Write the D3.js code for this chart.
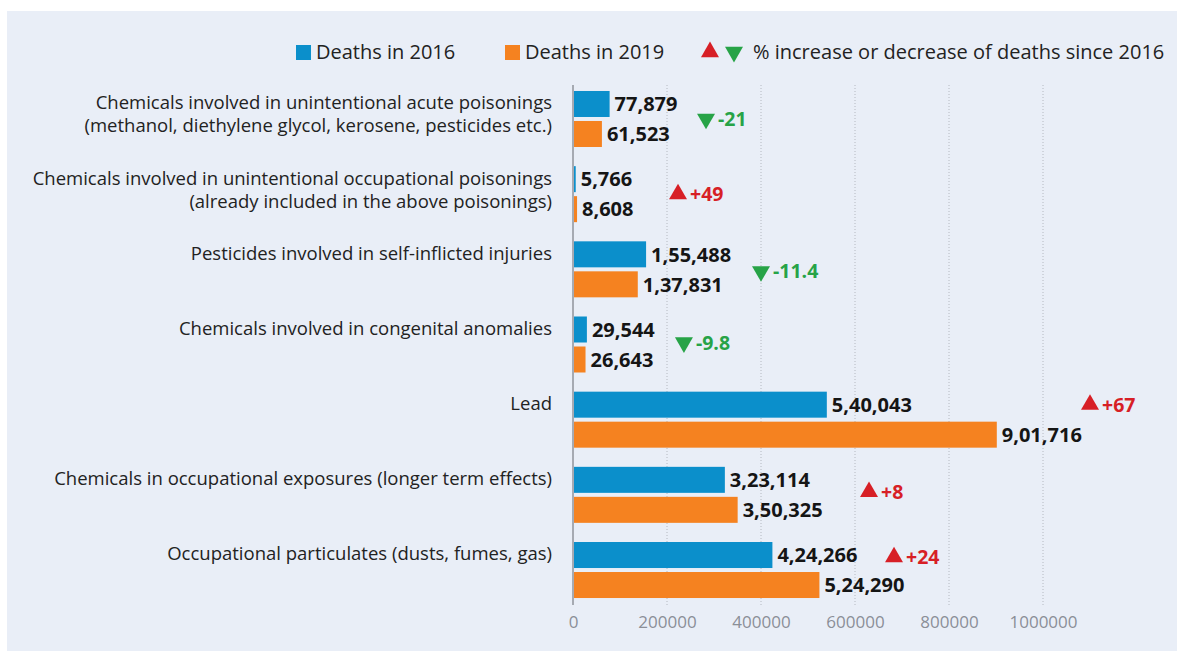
<!DOCTYPE html>
<html>
<head>
<meta charset="utf-8">
<script src="https://cdn.jsdelivr.net/npm/d3@7"></script>
<style>
  body { margin: 0; background: #fff; }
  svg { display: block; font-family: "Open Sans", "Noto Sans", sans-serif; }
</style>
</head>
<body>
<svg id="chart"></svg>
<script>
// ---------- data ----------
var categories = [
  ["Chemicals involved in unintentional acute poisonings", "(methanol, diethylene glycol, kerosene, pesticides etc.)"],
  ["Chemicals involved in unintentional occupational poisonings", "(already included in the above poisonings)"],
  ["Pesticides involved in self-inflicted injuries"],
  ["Chemicals involved in congenital anomalies"],
  ["Lead"],
  ["Chemicals in occupational exposures (longer term effects)"],
  ["Occupational particulates (dusts, fumes, gas)"]
];
var deaths2016 = [77879, 5766, 155488, 29544, 540043, 323114, 424266];
var deaths2019 = [61523, 8608, 137831, 26643, 901716, 350325, 524290];
var pctChange  = [-21, 49, -11.4, -9.8, 67, 8, 24];
var xTicks = [0, 200000, 400000, 600000, 800000, 1000000];
var seriesNames = ["Deaths in 2016", "Deaths in 2019"];

// where the % markers sit (x in axis units, y as offset from group top)
var markerAt = [266000, 206400, 383000, 219000, 1083000, 612800, 666000];
var markerDy = [28, 28, 30, 26, 13, 25, 15];

var W = 1177, H = 651;
var blue = "#0b8fcb", orange = "#f58220", red = "#d71f26", green = "#27a347";

var svg = d3.select("#chart").attr("width", W).attr("height", H);

// panel background
svg.append("rect")
  .attr("x", 7).attr("y", 11)
  .attr("width", W - 7).attr("height", H - 11)
  .attr("fill", "#e9eef7");

//-------------scales-------------------
var idx = d3.range(categories.length);

var x = d3.scaleLinear()
  .domain([0, 1000000])
  .range([573, 1043]);

var y0 = d3.scaleBand()
  .domain(idx)
  .range([81.4, 607.6])
  .paddingInner(0.255)
  .paddingOuter(0.1275);

var y1 = d3.scaleBand()
  .domain([0, 1])
  .range([0, y0.bandwidth()])
  .paddingInner(4 / 30);

// Indian digit grouping, e.g. 1,55,488
function inr(n) {
  var s = String(n);
  if (s.length <= 3) return s;
  var last3 = s.slice(-3), rest = s.slice(0, -3);
  rest = rest.replace(/\B(?=(\d{2})+(?!\d))/g, ",");
  return rest + "," + last3;
}

//-------------grid + axis-------------------
var gridTop = 85, gridBottom = 605;

svg.append("g")
  .selectAll("line")
  .data(xTicks.slice(1))
  .enter()
  .append("line")
  .attr("x1", function(d) { return x(d); })
  .attr("x2", function(d) { return x(d); })
  .attr("y1", gridTop)
  .attr("y2", gridBottom)
  .style("stroke", "#b4b8c0")
  .style("stroke-width", 1)
  .style("stroke-dasharray", "1,2");

svg.append("line")
  .attr("x1", x(0)).attr("x2", x(0))
  .attr("y1", gridTop).attr("y2", gridBottom)
  .style("stroke", "#7a7d84")
  .style("stroke-width", 1.2);

var xAxis = svg.append("g")
  .attr("transform", "translate(0," + (gridBottom + 2) + ")")
  .call(d3.axisBottom(x).tickValues(xTicks).tickFormat(d3.format("d")).tickSize(0).tickPadding(9));
xAxis.select(".domain").remove();
xAxis.selectAll("text")
  .style("font-family", "'Open Sans', sans-serif")
  .style("font-size", "17px")
  .style("fill", "#8b8f97");

//-------------bars-------------------
var rows = idx.map(function(i) {
  return { i: i, vals: [deaths2016[i], deaths2019[i]] };
});

var group = svg.selectAll(".cat")
  .data(rows)
  .enter()
  .append("g")
  .attr("class", "cat")
  .attr("transform", function(d) { return "translate(0," + y0(d.i) + ")"; });

group.selectAll("rect")
  .data(function(d) { return d.vals.map(function(v, k) { return { k: k, v: v }; }); })
  .enter()
  .append("rect")
  .attr("x", x(0) + 1)
  .attr("y", function(d) { return y1(d.k); })
  .attr("width", function(d) { return x(d.v) - x(0) - 1; })
  .attr("height", y1.bandwidth())
  .style("fill", function(d) { return d.k === 0 ? blue : orange; });

group.selectAll(".val")
  .data(function(d) { return d.vals.map(function(v, k) { return { k: k, v: v }; }); })
  .enter()
  .append("text")
  .attr("class", "val")
  .attr("x", function(d) { return x(d.v) + 5; })
  .attr("y", function(d) { return y1(d.k) + y1.bandwidth() / 2; })
  .attr("dy", "0.36em")
  .style("font-size", "20px")
  .style("font-weight", "bold")
  .style("fill", "#151515")
  .text(function(d) { return inr(d.v); });

// category labels
group.append("text")
  .attr("x", 552)
  .attr("text-anchor", "end")
  .style("font-size", "18.5px")
  .style("fill", "#222")
  .selectAll("tspan")
  .data(function(d) { return categories[d.i]; })
  .enter()
  .append("tspan")
  .attr("x", 552)
  .attr("y", function(d, k) { return y1.bandwidth() / 2 - 1 + k * 23; })
  .attr("dy", "0.35em")
  .text(function(d) { return d; });

//-------------% change markers-------------------
var tri = d3.symbol().type(d3.symbolTriangle).size(140);

var marker = group.append("g")
  .attr("transform", function(d) {
    return "translate(" + x(markerAt[d.i]) + "," + markerDy[d.i] + ")";
  });

marker.append("path")
  .attr("d", tri)
  .attr("transform", function(d) {
    return "translate(8,0)" + (pctChange[d.i] < 0 ? " rotate(180)" : "");
  })
  .style("fill", function(d) { return pctChange[d.i] < 0 ? green : red; });

marker.append("text")
  .attr("x", 20)
  .attr("dy", "0.36em")
  .style("font-size", "19.5px")
  .style("font-weight", "bold")
  .style("fill", function(d) { return pctChange[d.i] < 0 ? green : red; })
  .text(function(d) { var v = pctChange[d.i]; return (v > 0 ? "+" : "") + v; });

//-------------legend-------------------
var legY = 52;
var legend = svg.append("g");

var sw = [{ x: 296, c: blue, t: seriesNames[0] }, { x: 505, c: orange, t: seriesNames[1] }];
legend.selectAll(".sw")
  .data(sw)
  .enter()
  .append("rect")
  .attr("x", function(d) { return d.x; })
  .attr("y", legY - 7)
  .attr("width", 15)
  .attr("height", 15)
  .style("fill", function(d) { return d.c; });
legend.selectAll(".lt")
  .data(sw)
  .enter()
  .append("text")
  .attr("x", function(d) { return d.x + 20; })
  .attr("y", legY)
  .attr("dy", "0.35em")
  .style("font-size", "20px")
  .style("fill", "#222")
  .text(function(d) { return d.t; });

legend.append("path")
  .attr("d", tri)
  .attr("transform", "translate(710," + legY + ")")
  .style("fill", red);
legend.append("path")
  .attr("d", tri)
  .attr("transform", "translate(734," + legY + ") rotate(180)")
  .style("fill", green);
legend.append("text")
  .attr("x", 753)
  .attr("y", legY)
  .attr("dy", "0.35em")
  .style("font-size", "20px")
  .style("fill", "#222")
  .text("% increase or decrease of deaths since 2016");
</script>
</body>
</html>
